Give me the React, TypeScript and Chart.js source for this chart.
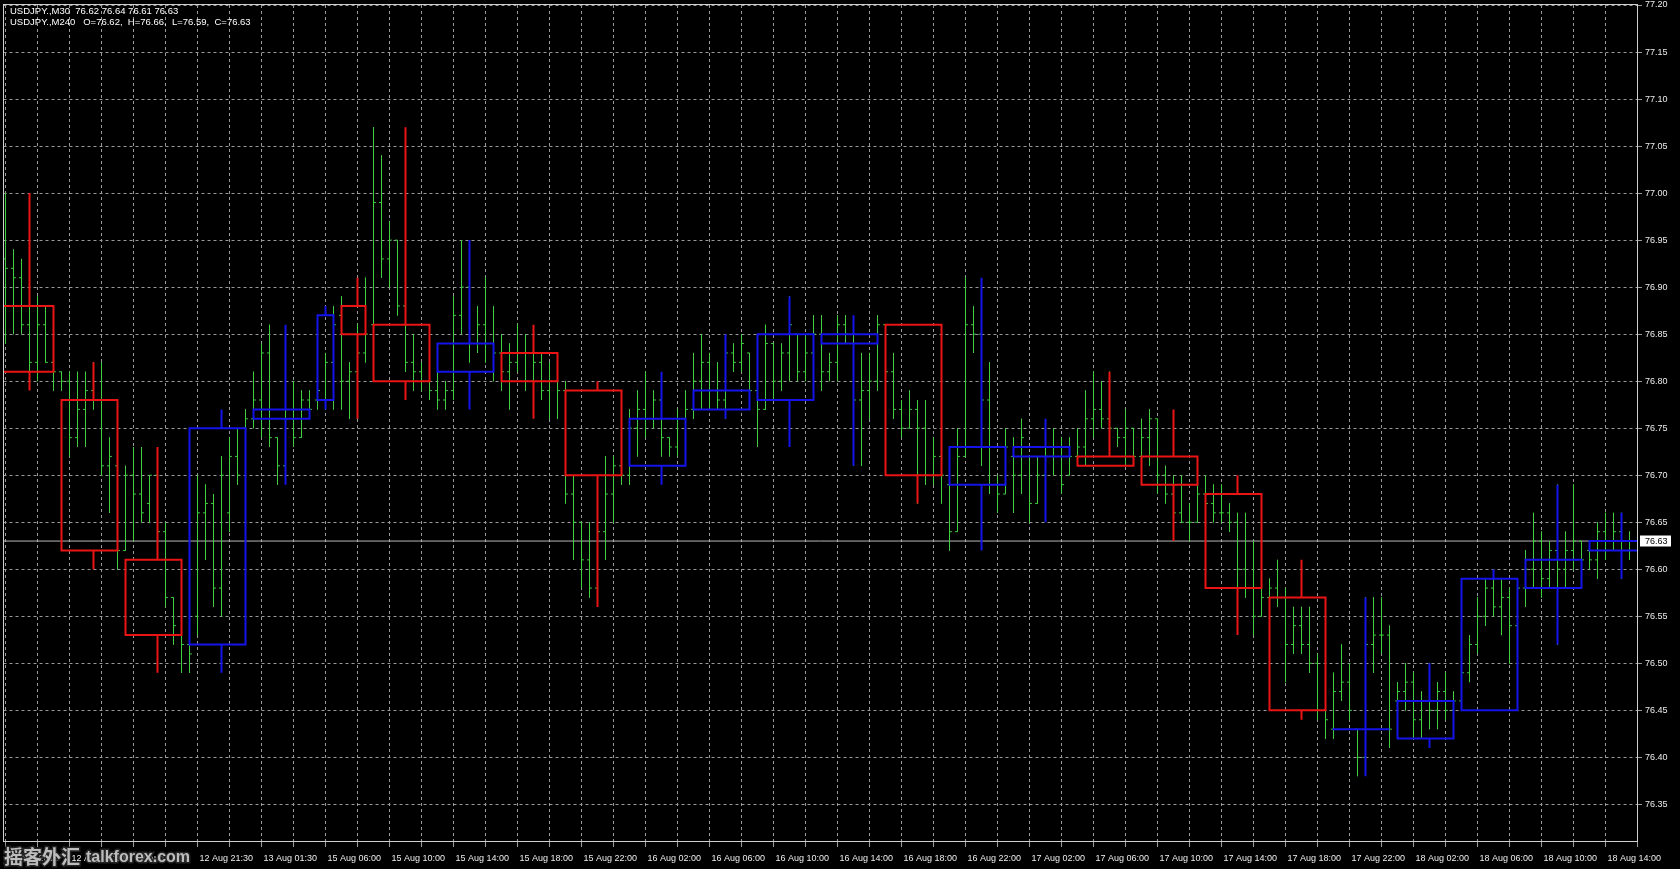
import { useEffect, useRef } from "react";
import { Chart, registerables } from "chart.js";

Chart.register(...registerables);

// ---- axis labels ----
const xLabels = [
  "12 Aug 2011", "12 Aug 13:30", "12 Aug 17:30", "12 Aug 21:30", "13 Aug 01:30",
  "15 Aug 06:00", "15 Aug 10:00", "15 Aug 14:00", "15 Aug 18:00", "15 Aug 22:00",
  "16 Aug 02:00", "16 Aug 06:00", "16 Aug 10:00", "16 Aug 14:00", "16 Aug 18:00",
  "16 Aug 22:00", "17 Aug 02:00", "17 Aug 06:00", "17 Aug 10:00", "17 Aug 14:00",
  "17 Aug 18:00", "17 Aug 22:00", "18 Aug 02:00", "18 Aug 06:00", "18 Aug 10:00",
  "18 Aug 14:00",
];
const yTicks = [
  76.35, 76.4, 76.45, 76.5, 76.55, 76.6, 76.65, 76.7, 76.75, 76.8, 76.85, 76.9,
  76.95, 77.0, 77.05, 77.1, 77.15, 77.2,
];

// ---- M30 bars (USDJPY) ----
const m30Open = [
  76.93, 76.92, 76.91, 76.86, 76.82, 76.86, 76.82, 76.81, 76.80, 76.74, 76.77, 76.79, 76.78, 76.71, 76.71, 76.62,
  76.70, 76.68, 76.67, 76.70, 76.64, 76.57, 76.53, 76.52, 76.55, 76.66, 76.67, 76.58, 76.66, 76.72, 76.75, 76.76,
  76.78, 76.83, 76.74, 76.71, 76.76, 76.74, 76.78, 76.78, 76.78, 76.82, 76.87, 76.80, 76.81, 76.83, 76.86, 76.99,
  76.93, 76.95, 76.88, 76.82, 76.81, 76.80, 76.79, 76.78, 76.79, 76.87, 76.90, 76.84, 76.86, 76.84, 76.83, 76.81,
  76.82, 76.83, 76.80, 76.82, 76.79, 76.80, 76.79, 76.68, 76.65, 76.61, 76.58, 76.64, 76.68, 76.71, 76.70, 76.75,
  76.77, 76.76, 76.78, 76.74, 76.73, 76.76, 76.77, 76.80, 76.82, 76.79, 76.78, 76.83, 76.82, 76.83, 76.79, 76.77,
  76.84, 76.80, 76.83, 76.85, 76.81, 76.83, 76.85, 76.81, 76.82, 76.86, 76.85, 76.78, 76.79, 76.80, 76.86, 76.81,
  76.77, 76.75, 76.77, 76.75, 76.70, 76.72, 76.69, 76.64, 76.72, 76.86, 76.85, 76.78, 76.69, 76.68, 76.72, 76.70,
  76.72, 76.67, 76.70, 76.72, 76.73, 76.70, 76.72, 76.73, 76.76, 76.77, 76.76, 76.75, 76.74, 76.75, 76.72, 76.74,
  76.76, 76.70, 76.68, 76.66, 76.65, 76.65, 76.68, 76.67, 76.66, 76.66, 76.65, 76.60, 76.58, 76.55, 76.57, 76.58,
  76.57, 76.52, 76.54, 76.52, 76.50, 76.45, 76.43, 76.47, 76.48, 76.43, 76.40, 76.52, 76.53, 76.53, 76.46, 76.47,
  76.48, 76.44, 76.46, 76.45, 76.47, 76.45, 76.46, 76.49, 76.52, 76.55, 76.58, 76.56, 76.57, 76.54, 76.58, 76.60,
  76.63, 76.59, 76.62, 76.60, 76.62, 76.63, 76.62, 76.61, 76.64, 76.62, 76.64, 76.62,
];
const m30High = [
  77.00, 76.94, 76.93, 76.88, 76.89, 76.88, 76.83, 76.81, 76.81, 76.81, 76.81, 76.82, 76.82, 76.74, 76.71, 76.71,
  76.73, 76.73, 76.70, 76.73, 76.65, 76.57, 76.53, 76.52, 76.70, 76.69, 76.68, 76.72, 76.74, 76.75, 76.77, 76.81,
  76.84, 76.86, 76.74, 76.78, 76.80, 76.79, 76.79, 76.80, 76.83, 76.88, 76.89, 76.82, 76.86, 76.91, 77.07, 77.04,
  76.97, 76.95, 76.90, 76.85, 76.82, 76.80, 76.81, 76.80, 76.89, 76.95, 76.94, 76.88, 76.91, 76.88, 76.85, 76.84,
  76.86, 76.85, 76.83, 76.83, 76.82, 76.82, 76.80, 76.70, 76.65, 76.65, 76.66, 76.72, 76.72, 76.71, 76.77, 76.79,
  76.81, 76.79, 76.80, 76.74, 76.77, 76.79, 76.83, 76.85, 76.83, 76.82, 76.84, 76.84, 76.85, 76.83, 76.79, 76.86,
  76.84, 76.84, 76.89, 76.85, 76.85, 76.87, 76.87, 76.83, 76.87, 76.87, 76.86, 76.83, 76.83, 76.87, 76.86, 76.83,
  76.78, 76.79, 76.78, 76.78, 76.74, 76.72, 76.69, 76.75, 76.91, 76.88, 76.86, 76.82, 76.70, 76.75, 76.74, 76.76,
  76.72, 76.72, 76.74, 76.75, 76.74, 76.74, 76.75, 76.79, 76.81, 76.80, 76.81, 76.75, 76.77, 76.75, 76.76, 76.77,
  76.76, 76.71, 76.70, 76.70, 76.67, 76.69, 76.70, 76.69, 76.69, 76.67, 76.66, 76.66, 76.63, 76.58, 76.59, 76.61,
  76.58, 76.56, 76.56, 76.56, 76.51, 76.49, 76.49, 76.52, 76.50, 76.43, 76.57, 76.57, 76.57, 76.54, 76.48, 76.50,
  76.49, 76.47, 76.50, 76.48, 76.49, 76.47, 76.50, 76.53, 76.57, 76.59, 76.60, 76.59, 76.58, 76.59, 76.62, 76.66,
  76.64, 76.63, 76.69, 76.64, 76.69, 76.63, 76.63, 76.65, 76.66, 76.66, 76.66, 76.64,
];
const m30Low = [
  76.84, 76.85, 76.85, 76.80, 76.80, 76.82, 76.79, 76.79, 76.72, 76.73, 76.73, 76.77, 76.70, 76.66, 76.60, 76.62,
  76.63, 76.65, 76.65, 76.62, 76.56, 76.52, 76.49, 76.49, 76.53, 76.61, 76.56, 76.55, 76.64, 76.69, 76.75, 76.75,
  76.74, 76.73, 76.69, 76.70, 76.73, 76.74, 76.77, 76.77, 76.77, 76.77, 76.77, 76.76, 76.76, 76.82, 76.80, 76.91,
  76.90, 76.87, 76.81, 76.79, 76.79, 76.78, 76.77, 76.77, 76.78, 76.85, 76.82, 76.83, 76.82, 76.80, 76.79, 76.77,
  76.81, 76.79, 76.78, 76.78, 76.76, 76.76, 76.67, 76.61, 76.58, 76.57, 76.56, 76.61, 76.65, 76.69, 76.69, 76.72,
  76.74, 76.75, 76.72, 76.72, 76.72, 76.76, 76.76, 76.77, 76.77, 76.77, 76.76, 76.81, 76.81, 76.79, 76.73, 76.77,
  76.78, 76.79, 76.80, 76.80, 76.80, 76.80, 76.79, 76.80, 76.80, 76.84, 76.71, 76.71, 76.76, 76.79, 76.79, 76.76,
  76.74, 76.75, 76.67, 76.69, 76.69, 76.67, 76.62, 76.64, 76.72, 76.83, 76.71, 76.68, 76.66, 76.68, 76.66, 76.68,
  76.65, 76.67, 76.69, 76.70, 76.68, 76.70, 76.71, 76.71, 76.74, 76.75, 76.73, 76.73, 76.71, 76.71, 76.71, 76.71,
  76.68, 76.67, 76.63, 76.65, 76.63, 76.65, 76.65, 76.65, 76.65, 76.64, 76.58, 76.57, 76.53, 76.55, 76.56, 76.56,
  76.48, 76.51, 76.51, 76.49, 76.44, 76.42, 76.42, 76.46, 76.44, 76.38, 76.40, 76.49, 76.51, 76.41, 76.45, 76.45,
  76.42, 76.42, 76.43, 76.43, 76.44, 76.44, 76.45, 76.48, 76.51, 76.54, 76.55, 76.53, 76.50, 76.53, 76.56, 76.58,
  76.57, 76.58, 76.52, 76.58, 76.60, 76.58, 76.60, 76.59, 76.61, 76.62, 76.59, 76.61,
];
const m30Close = [
  76.92, 76.91, 76.86, 76.82, 76.86, 76.82, 76.81, 76.80, 76.74, 76.77, 76.79, 76.78, 76.71, 76.72, 76.62, 76.70,
  76.68, 76.66, 76.70, 76.64, 76.57, 76.54, 76.52, 76.51, 76.66, 76.67, 76.58, 76.70, 76.72, 76.70, 76.76, 76.78,
  76.83, 76.74, 76.71, 76.76, 76.74, 76.78, 76.77, 76.79, 76.82, 76.86, 76.80, 76.81, 76.83, 76.85, 76.99, 76.93,
  76.95, 76.88, 76.82, 76.81, 76.80, 76.79, 76.78, 76.79, 76.87, 76.90, 76.84, 76.86, 76.84, 76.83, 76.81, 76.82,
  76.83, 76.80, 76.82, 76.79, 76.80, 76.79, 76.68, 76.65, 76.61, 76.58, 76.64, 76.68, 76.71, 76.70, 76.75, 76.77,
  76.76, 76.78, 76.74, 76.73, 76.76, 76.77, 76.80, 76.82, 76.79, 76.78, 76.83, 76.82, 76.84, 76.79, 76.77, 76.84,
  76.80, 76.83, 76.86, 76.81, 76.83, 76.85, 76.81, 76.82, 76.86, 76.85, 76.78, 76.79, 76.80, 76.86, 76.81, 76.77,
  76.75, 76.77, 76.75, 76.70, 76.72, 76.70, 76.64, 76.72, 76.86, 76.85, 76.78, 76.69, 76.68, 76.73, 76.70, 76.74,
  76.67, 76.70, 76.72, 76.73, 76.69, 76.72, 76.73, 76.76, 76.77, 76.76, 76.75, 76.74, 76.75, 76.72, 76.74, 76.76,
  76.70, 76.68, 76.66, 76.65, 76.65, 76.68, 76.67, 76.66, 76.66, 76.65, 76.60, 76.58, 76.55, 76.57, 76.58, 76.57,
  76.52, 76.54, 76.52, 76.50, 76.45, 76.44, 76.47, 76.48, 76.45, 76.40, 76.52, 76.53, 76.53, 76.43, 76.47, 76.48,
  76.44, 76.46, 76.45, 76.47, 76.45, 76.46, 76.49, 76.52, 76.55, 76.58, 76.56, 76.57, 76.54, 76.58, 76.60, 76.63,
  76.59, 76.62, 76.60, 76.62, 76.63, 76.61, 76.61, 76.64, 76.62, 76.64, 76.62, 76.63,
];

// ---- M240 candles overlaid (number of M30 bars in each H4 period) ----
const h4FirstBar = -1;
const h4Bars = [8, 8, 8, 8, 8, 3, 4, 8, 8, 8, 8, 8, 8, 8, 8, 8, 8, 8, 8, 8, 8, 8, 8, 8, 8, 8, 8];
const h4Open = [76.88, 76.78, 76.61, 76.52, 76.76, 76.78, 76.88, 76.86, 76.81, 76.83, 76.79, 76.71, 76.77, 76.78, 76.84, 76.86, 76.69, 76.72, 76.72, 76.72, 76.68, 76.57, 76.43, 76.42, 76.45, 76.58, 76.62];
const h4High = [77.00, 76.82, 76.73, 76.77, 76.86, 76.88, 76.91, 77.07, 76.95, 76.86, 76.80, 76.81, 76.85, 76.89, 76.87, 76.86, 76.91, 76.76, 76.81, 76.77, 76.70, 76.61, 76.57, 76.50, 76.60, 76.69, 76.66];
const h4Low = [76.79, 76.60, 76.49, 76.49, 76.69, 76.77, 76.76, 76.78, 76.77, 76.76, 76.56, 76.69, 76.76, 76.73, 76.71, 76.67, 76.62, 76.65, 76.71, 76.63, 76.53, 76.44, 76.38, 76.41, 76.45, 76.52, 76.59];
const h4Close = [76.81, 76.62, 76.53, 76.75, 76.77, 76.87, 76.85, 76.80, 76.84, 76.80, 76.70, 76.76, 76.79, 76.85, 76.85, 76.70, 76.73, 76.73, 76.71, 76.69, 76.58, 76.45, 76.43, 76.46, 76.59, 76.61, 76.63];

const SYMBOL = "USDJPY.";

// ---- styles ----
const GREEN = "#3fcf3f";
const RED = "#ea1414";
const BLUE = "#1414ea";
const GRID = "#9a9a9a";
const TEXT = "#ececec";
const FONT = "Liberation Sans";
const TICK = 0.3;

const fmt = (v: number) => v.toFixed(2);

export default function App() {
  const ref = useRef<HTMLCanvasElement>(null);

  useEffect(() => {
    document.body.style.margin = "0";
    document.body.style.background = "#000";
    const canvas = ref.current;
    if (!canvas) return;

    const n = m30Close.length;
    const bars: any[] = [];
    for (let i = 0; i < n; i++) {
      bars.push(
        { x: i, y: m30High[i] }, { x: i, y: m30Low[i] }, { x: i, y: null },
        { x: i - TICK, y: m30Open[i] }, { x: i, y: m30Open[i] }, { x: i, y: null },
        { x: i, y: m30Close[i] }, { x: i + TICK, y: m30Close[i] }, { x: i, y: null },
      );
    }

    const upBox: any[] = [], downBox: any[] = [], upWick: any[] = [], downWick: any[] = [];
    let start = h4FirstBar;
    h4Bars.forEach((cnt, j) => {
      const s = start;
      const e = start + cnt - 1;
      const w = start + Math.floor(cnt / 2);
      start += cnt;
      const o = h4Open[j], c = h4Close[j], h = h4High[j], l = h4Low[j];
      const top = Math.max(o, c), bot = Math.min(o, c);
      const up = c >= o;
      (up ? upBox : downBox).push(
        { x: s, y: o }, { x: e, y: o }, { x: e, y: c }, { x: s, y: c }, { x: s, y: o }, { x: s, y: null },
      );
      (up ? upWick : downWick).push(
        { x: w, y: h }, { x: w, y: top }, { x: w, y: null },
        { x: w, y: bot }, { x: w, y: l }, { x: w, y: null },
      );
    });

    const last = n - 1;
    const lastClose = m30Close[last];
    const lastH4 = h4Open.length - 1;

    const gridBars: number[] = [];
    for (let v = 0; v <= 204; v += 4) gridBars.push(v);

    const lineBase = {
      pointRadius: 0,
      pointHoverRadius: 0,
      pointHitRadius: 0,
      tension: 0,
      spanGaps: false,
      fill: false,
      borderJoinStyle: "miter" as const,
    };

    const decor = {
      id: "mt4decor",
      afterDraw(chart: any) {
        const { ctx, chartArea: a, scales } = chart;
        ctx.save();
        // frame
        ctx.strokeStyle = "#d0d0d0";
        ctx.lineWidth = 1;
        ctx.setLineDash([]);
        const x0 = Math.floor(a.left) + 0.5;
        const y0 = Math.round(a.top) - 0.5;
        const x1 = Math.round(a.right) - 0.5;
        const y1 = Math.round(a.bottom) - 0.5;
        ctx.strokeRect(x0, y0, x1 - x0, y1 - y0);

        // current price label
        const py = scales.y.getPixelForValue(lastClose);
        ctx.fillStyle = "#ffffff";
        ctx.fillRect(a.right + 2, Math.round(py) - 5.5, 31, 11);
        ctx.fillStyle = "#000000";
        ctx.font = `9px "${FONT}"`;
        ctx.textBaseline = "middle";
        ctx.textAlign = "left";
        ctx.fillText(fmt(lastClose), a.right + 7, py);

        // info lines
        ctx.fillStyle = "#ffffff";
        ctx.font = `9.5px "${FONT}"`;
        ctx.fillText(
          `${SYMBOL},M30  ${fmt(m30Open[last])} ${fmt(m30High[last])} ${fmt(m30Low[last])} ${fmt(m30Close[last])}`,
          10, 11.5,
        );
        ctx.fillText(
          `${SYMBOL},M240   O=${fmt(h4Open[lastH4])},  H=${fmt(h4High[lastH4])},  L=${fmt(h4Low[lastH4])},  C=${fmt(h4Close[lastH4])}`,
          10, 22,
        );

        // watermark
        ctx.textBaseline = "alphabetic";
        ctx.font = `bold 19px "Noto Sans CJK SC"`;
        ctx.lineWidth = 3;
        ctx.strokeStyle = "rgba(40,40,40,0.9)";
        ctx.strokeText("摇客外汇", 4, 864);
        ctx.fillStyle = "rgba(205,205,205,0.9)";
        ctx.fillText("摇客外汇", 4, 864);
        ctx.font = `bold 16px "Liberation Sans"`;
        ctx.strokeText("talkforex.com", 86, 862);
        ctx.fillText("talkforex.com", 86, 862);
        ctx.restore();
      },
    };

    const chart = new Chart(canvas, {
      type: "line",
      data: {
        datasets: [
          {
            ...lineBase,
            data: [{ x: -1, y: lastClose }, { x: 210, y: lastClose }],
            borderColor: "#b8b8b8",
            borderWidth: 1,
            order: 4,
          },
          {
            ...lineBase,
            data: bars,
            borderColor: GREEN,
            borderWidth: 1,
            borderCapStyle: "butt",
            order: 3,
          },
          {
            ...lineBase,
            data: downWick,
            borderColor: RED,
            borderWidth: 2,
            order: 2,
          },
          {
            ...lineBase,
            data: upWick,
            borderColor: BLUE,
            borderWidth: 2,
            order: 2,
          },
          {
            ...lineBase,
            data: downBox,
            borderColor: RED,
            borderWidth: 2,
            borderCapStyle: "square",
            order: 1,
          },
          {
            ...lineBase,
            data: upBox,
            borderColor: BLUE,
            borderWidth: 2,
            borderCapStyle: "square",
            order: 1,
          },
        ] as any,
      },
      options: {
        responsive: false,
        animation: false,
        devicePixelRatio: 1,
        events: [],
        layout: { padding: { left: 3.5, top: 5, right: 0, bottom: 0 } },
        plugins: {
          legend: { display: false },
          tooltip: { enabled: false },
          title: { display: false },
        },
        scales: {
          x: {
            type: "linear",
            min: -0.25,
            max: 204.0625,
            afterBuildTicks: (s: any) => {
              s.ticks = gridBars.map((v) => ({ value: v }));
            },
            afterFit: (s: any) => {
              s.height = 27;
              s.paddingLeft = 0;
              s.paddingRight = 0;
            },
            ticks: {
              autoSkip: false,
              maxRotation: 0,
              minRotation: 0,
              align: "start",
              padding: 6,
              labelOffset: 2,
              color: TEXT,
              font: { family: FONT, size: 9 },
              callback: (v: any) => (Number(v) % 8 === 0 ? xLabels[Number(v) / 8] ?? "" : ""),
            },
            grid: { color: GRID, lineWidth: 1, tickLength: 5, drawTicks: true },
            border: { display: false, dash: [3, 3] },
          },
          y: {
            type: "linear",
            position: "right",
            min: 76.31,
            max: 77.2,
            afterBuildTicks: (s: any) => {
              s.ticks = yTicks.map((v) => ({ value: v }));
            },
            afterFit: (s: any) => {
              s.width = 42;
              s.paddingTop = 0;
              s.paddingBottom = 0;
            },
            ticks: {
              padding: 3,
              color: TEXT,
              font: { family: FONT, size: 9 },
              callback: (v: any) => fmt(Number(v)),
            },
            grid: { color: GRID, lineWidth: 1, tickLength: 4, drawTicks: true },
            border: { display: false, dash: [3, 3] },
          },
        },
      } as any,
      plugins: [decor],
    });

    return () => chart.destroy();
  }, []);

  return (
    <div style={{ width: 1680, height: 869, background: "#000", position: "relative" }}>
      <canvas ref={ref} width={1680} height={869} style={{ display: "block" }} />
    </div>
  );
}
